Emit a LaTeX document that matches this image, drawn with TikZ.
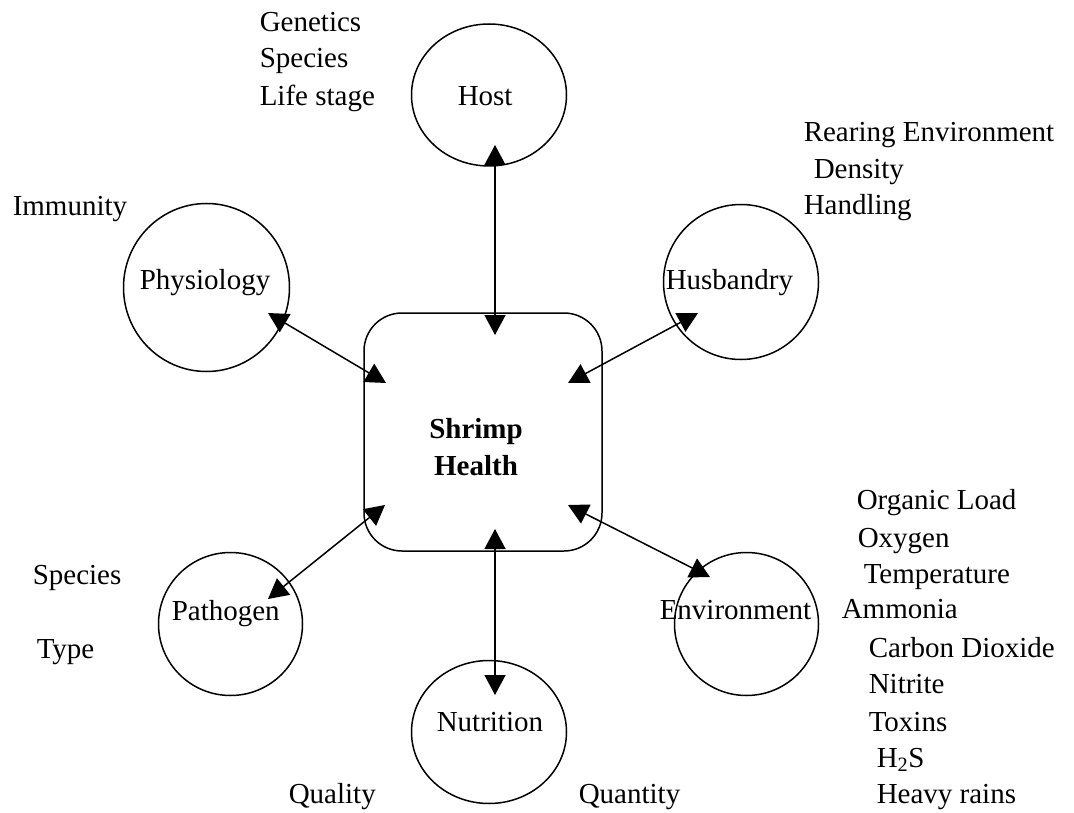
\documentclass[tikz,border=0pt]{standalone}
\usepackage{fontspec}
\setmainfont{Liberation Serif}
\usetikzlibrary{arrows.meta,shapes.geometric}

\begin{document}
\begin{tikzpicture}[x=1pt,y=-1pt,>={Triangle[length=20pt,width=21pt]},line width=1.5pt,
  every node/.style={font=\fontsize{29}{36}\selectfont,inner sep=0pt},
  factor/.style={draw,ellipse},
  note/.style={anchor=base west}]
\useasboundingbox (0,0) rectangle (1074,813);
% centre box
\node[draw,rounded corners=38pt,minimum size=238pt] (health) at (483,432) {};
\node[align=center,font=\fontsize{29}{37}\selectfont\bfseries] (title) at (476,447) {Shrimp\\Health};
% factors
\node[factor,minimum width=155pt,minimum height=142pt] (host) at (489,95) {};
\node[factor,minimum width=166pt,minimum height=168pt] (physio) at (206.5,287.5) {};
\node[factor,minimum width=155pt,minimum height=155pt] (husb) at (741,282) {};
\node[factor,minimum width=144pt,minimum height=143pt] (patho) at (230.5,624) {};
\node[factor,minimum width=155pt,minimum height=143pt] (nutri) at (489,732) {};
\node[factor,minimum width=144pt,minimum height=143pt] (envir) at (746.5,624) {};
\node[note] (hostlbl) at (457,106) {Host};
\node[note] (physiolbl) at (139,290) {Physiology};
\node[note] (husblbl) at (665,289) {Husbandry};
\node[note] (patholbl) at (171,620) {Pathogen};
\node[note] (nutrilbl) at (436,731) {Nutrition};
\node[note] (envirlbl) at (659,619) {Environment};
% arrow ends
\coordinate (h1) at (495,145); \coordinate (h2) at (495,335);
\coordinate (p1) at (268,313); \coordinate (p2) at (386,383);
\coordinate (u1) at (698,313); \coordinate (u2) at (568,383);
\coordinate (g1) at (268,599); \coordinate (g2) at (385,505);
\coordinate (n1) at (495,695); \coordinate (n2) at (495,529);
\coordinate (e1) at (710,577); \coordinate (e2) at (568,505);
\draw[<->] (h1) -- (h2);
\draw[<->] (p1) -- (p2);
\draw[<->] (u1) -- (u2);
\draw[<->] (g1) -- (g2);
\draw[<->] (n1) -- (n2);
\draw[<->] (e1) -- (e2);
% notes
\node[note] (genet) at (259,32) {Genetics};
\node[note] (hspec) at (259,68) {Species};
\node[note] (stage) at (259,106) {Life stage};
\node[note] (immun) at (12,216) {Immunity};
\node[note] (rear) at (803,142) {Rearing Environment};
\node[note] (dens) at (813,179) {Density};
\node[note] (handl) at (803,215) {Handling};
\node[note] (pspec) at (32,584) {Species};
\node[note] (ptype) at (36,658) {Type};
\node[note] (qual) at (288,803) {Quality};
\node[note] (quant) at (578,803) {Quantity};
\node[note] (orgl) at (856,509) {Organic Load};
\node[note] (oxy) at (857,547) {Oxygen};
\node[note] (temp) at (863,583) {Temperature};
\node[note] (ammo) at (841,618) {Ammonia};
\node[note] (carb) at (868,657) {Carbon Dioxide};
\node[note] (nitr) at (868,693) {Nitrite};
\node[note] (toxn) at (868,731) {Toxins};
\node[note] (hsul) at (876,767) {H\textsubscript{2}S};
\node[note] (rain) at (876,803) {Heavy rains};
\end{tikzpicture}
\end{document}
